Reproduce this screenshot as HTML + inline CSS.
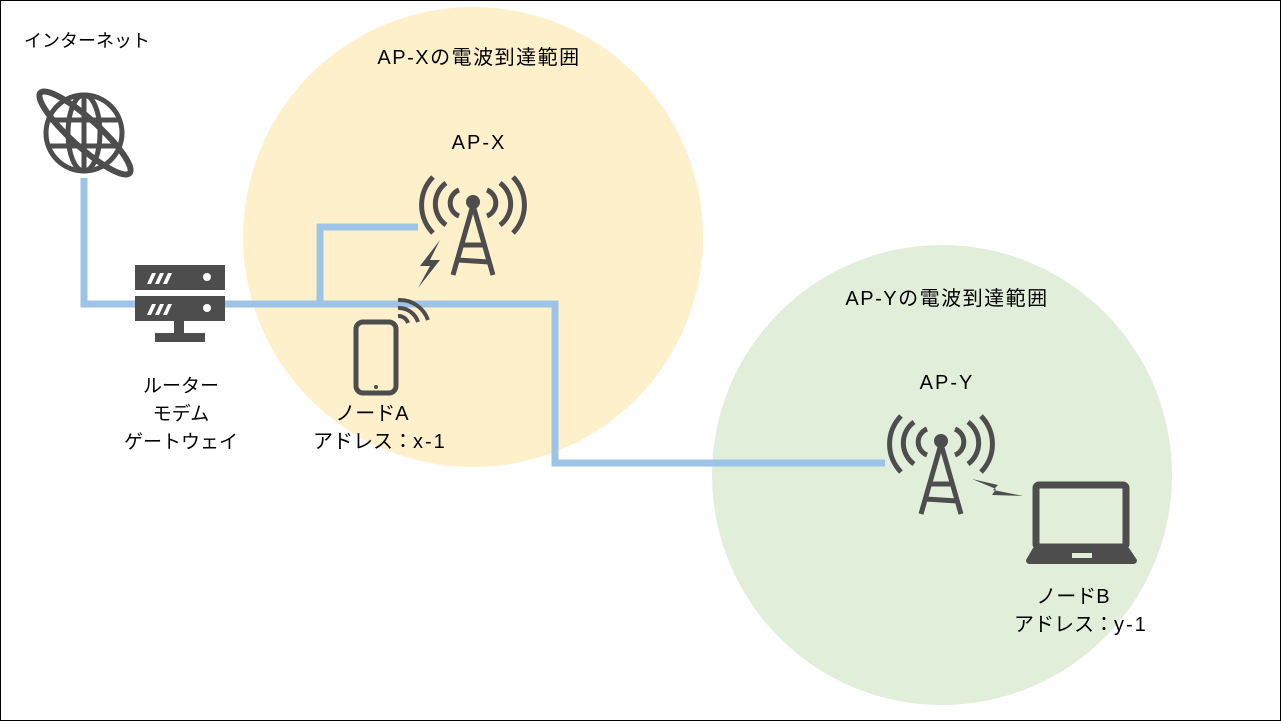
<!DOCTYPE html>
<html><head><meta charset="utf-8"><style>
body{margin:0;background:#fff}
#c{position:relative;width:1279px;height:719px;border:1px solid #000;overflow:hidden;font-family:"Liberation Sans","Noto Sans CJK JP",sans-serif;font-size:20px;color:#000}
.t{position:absolute;white-space:nowrap;text-align:center;line-height:28px}
.l{letter-spacing:2px}
.cx{transform:translateX(-50%)}
</style></head><body><div id="c">
<svg width="1281" height="721" style="position:absolute;left:-1px;top:-1px">
<circle cx="473" cy="237" r="230" fill="#FFF0CC"/>
<circle cx="942" cy="475" r="230" fill="#E1EED9"/>
<g fill="none" stroke="#9DC3E6" stroke-width="7">
<polyline points="84,178 84,304 140,304"/>
<polyline points="222,304 555,304 555,463 885,463"/>
<polyline points="320,304 320,227 418,227"/>
</g>
<g fill="#4d4d4d" stroke="#4d4d4d">
<g fill="none" stroke-width="5">
<circle cx="84" cy="133" r="38"/>
<ellipse cx="84" cy="133" rx="16" ry="38"/>
<line x1="84" y1="95" x2="84" y2="171"/>
<line x1="48" y1="120" x2="120" y2="120"/>
<line x1="48" y1="146" x2="120" y2="146"/>
<ellipse cx="85" cy="133" rx="60" ry="14" transform="rotate(42 85 133)" stroke-width="6"/>
</g>
<rect x="135" y="265" width="90" height="25" stroke="none"/>
<rect x="135" y="296" width="90" height="25" stroke="none"/>
<rect x="174" y="318" width="10" height="20" stroke="none"/>
<rect x="155" y="333" width="50" height="9" stroke="none"/>
<g fill="#fff" stroke="none"><circle cx="207" cy="277" r="4"/><circle cx="207" cy="308" r="4"/>
<path d="M147,284 l5,-11 h4 l-5,11z M155,284 l5,-11 h4 l-5,11z M163,284 l5,-11 h4 l-5,11z"/>
<path d="M147,315 l5,-11 h4 l-5,11z M155,315 l5,-11 h4 l-5,11z M163,315 l5,-11 h4 l-5,11z"/></g>
<rect x="356" y="322" width="40" height="71" rx="7" fill="none" stroke-width="5"/>
<circle cx="376" cy="387" r="2" stroke="none"/>
<g fill="none" stroke-width="4"><path d="M398,300 a30,30 0 0 1 30,20"/><path d="M398,308 a20,20 0 0 1 20,14"/><path d="M398,316 a10,10 0 0 1 10,7"/></g>
<g id="tw">
<circle cx="473" cy="202" r="7" stroke="none"/>
<g fill="none" stroke-width="5">
<path d="M473,205 L453,275 M473,205 L493,275 M462,245 L484,245 M458,260 L489,262"/>
<path d="M459,190 a14,14 0 0 0 0,26"/><path d="M487,190 a14,14 0 0 1 0,26"/>
<path d="M446,183 a26,26 0 0 0 0,42"/><path d="M500,183 a26,26 0 0 1 0,42"/>
<path d="M433,177 a40,40 0 0 0 0,56"/><path d="M513,177 a40,40 0 0 1 0,56"/>
</g></g>
<use href="#tw" transform="translate(468,239)"/>
<path d="M440,240 L420,266 L430,266 L418,288 L440,260 L430,260 L440,240z" stroke="none"/>
<path d="M972,479 L998,485 L993,490 L1023,496 L992,495 L996,489z" stroke="none"/>
<rect x="1036" y="485" width="90" height="62" rx="3" fill="none" stroke-width="7"/>
<path d="M1033,548 H1129 L1137,560 Q1137,564 1133,564 H1030 Q1026,564 1026,560z" stroke="none"/>
<rect x="1072" y="553" width="20" height="5" fill="#E1EED9" stroke="none"/>
</g>
</svg>
<div class="t" style="left:23px;top:26px;font-size:18px">インターネット</div>
<div class="t cx" style="left:478px;top:43px;letter-spacing:1.5px">AP-Xの電波到達範囲</div>
<div class="t cx l" style="left:478px;top:128px">AP-X</div>
<div class="t cx" style="left:946px;top:284px;letter-spacing:1.5px">AP-Yの電波到達範囲</div>
<div class="t cx l" style="left:946px;top:368px">AP-Y</div>
<div class="t cx" style="left:180px;top:372px;font-size:19px">ルーター<br>モデム<br>ゲートウェイ</div>
<div class="t" style="left:312px;top:399px;text-align:left">&nbsp;&nbsp;&nbsp;&nbsp;ノードA<br>アドレス：<span class="l">x-1</span></div>
<div class="t" style="left:1013px;top:582px;text-align:left">&nbsp;&nbsp;&nbsp;&nbsp;ノードB<br>アドレス：<span class="l">y-1</span></div>
</div></body></html>
